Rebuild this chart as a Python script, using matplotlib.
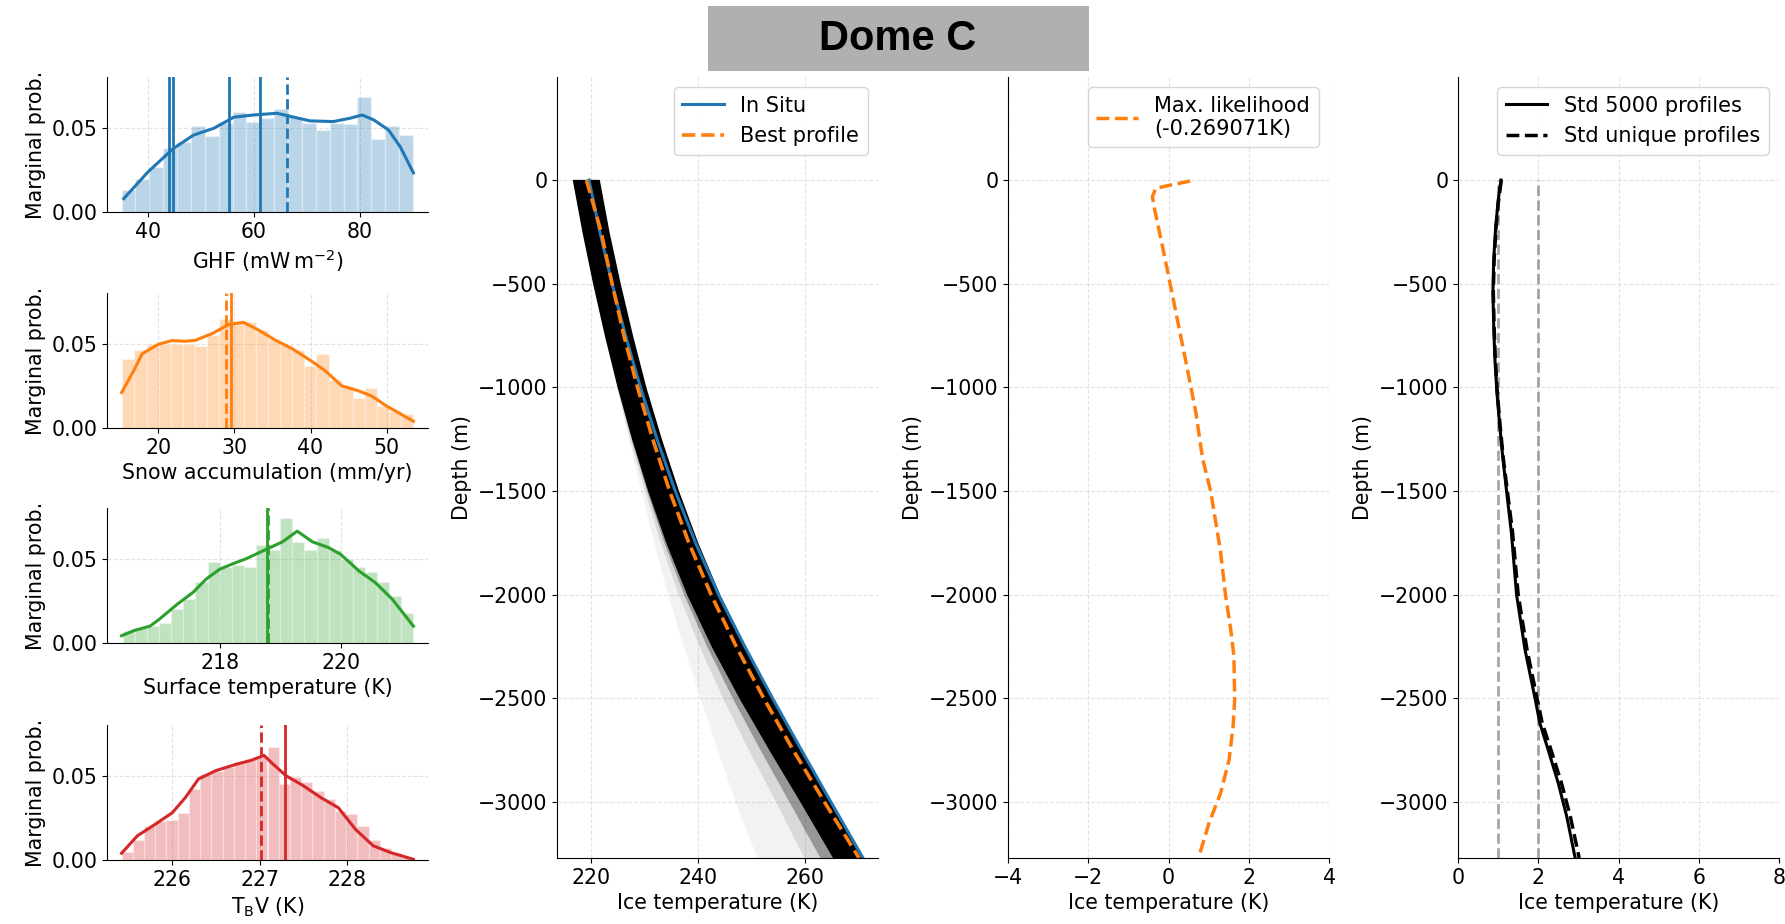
import matplotlib
matplotlib.use("Agg")
import matplotlib.pyplot as plt
import numpy as np
from matplotlib.patches import Rectangle

plt.rcParams["font.size"] = 14.8

C_BLUE, C_ORANGE, C_GREEN, C_RED = "tab:blue", "tab:orange", "tab:green", "tab:red"

# ---- marginal histograms (probability per bin) ----
ghf_range = (35.0, 90.0)
ghf_hist = [0.0129, 0.0198, 0.0268, 0.0377, 0.0417, 0.0512, 0.045, 0.053, 0.0595, 0.0536, 0.056,
            0.061, 0.0565, 0.0526, 0.0486, 0.0526, 0.052, 0.068, 0.043, 0.051, 0.0458]
ghf_kde_x = [35.4, 40.0, 44.8, 48.6, 52.4, 56.2, 59.9, 64.3, 67.5, 70.6, 75.0, 78.2, 80.4, 82.6, 85.4, 87.6, 90.1]
ghf_kde_y = [0.0079, 0.0238, 0.0377, 0.0456, 0.0496, 0.0562, 0.0575, 0.0585, 0.0562, 0.054, 0.0536,
             0.0556, 0.0575, 0.0546, 0.0486, 0.0387, 0.0232]
ghf_solid = [44.0, 44.7, 55.3, 61.1]
ghf_dashed = [66.2]

acc_range = (15.3, 53.5)
acc_hist = [0.041, 0.046, 0.050, 0.050, 0.050, 0.050, 0.0486, 0.055, 0.0644, 0.063, 0.063, 0.058,
            0.053, 0.049, 0.046, 0.037, 0.0436, 0.0284, 0.025, 0.018, 0.024, 0.013, 0.010, 0.0084]
acc_kde_x = [15.2, 16.8, 17.9, 20.0, 21.8, 23.6, 24.9, 27.1, 29.3, 31.2, 33.2, 35.4, 37.6, 40.0,
             41.9, 44.1, 46.3, 48.0, 50.0, 53.5]
acc_kde_y = [0.021, 0.034, 0.044, 0.0496, 0.0518, 0.0514, 0.052, 0.056, 0.0614, 0.0626, 0.058, 0.052,
             0.047, 0.040, 0.034, 0.025, 0.022, 0.019, 0.013, 0.004]
acc_solid = [29.6]
acc_dashed = [28.95]

ts_range = (216.4, 221.2)
ts_hist = [0.007, 0.009, 0.010, 0.012, 0.020, 0.026, 0.036, 0.048, 0.045, 0.046, 0.045, 0.058,
           0.055, 0.074, 0.060, 0.055, 0.062, 0.055, 0.050, 0.045, 0.042, 0.036, 0.028, 0.018]
ts_kde_x = [216.38, 216.58, 216.85, 217.0, 217.3, 217.56, 217.78, 218.0, 218.2, 218.44, 218.77,
            219.04, 219.28, 219.53, 219.8, 220.0, 220.3, 220.57, 220.85, 221.2]
ts_kde_y = [0.0043, 0.0073, 0.010, 0.014, 0.023, 0.030, 0.038, 0.0437, 0.0467, 0.050, 0.0555,
            0.060, 0.0663, 0.060, 0.0565, 0.0525, 0.0427, 0.0358, 0.026, 0.010]
ts_solid = [218.78]
ts_dashed = [218.80]

tb_range = (225.42, 228.76)
tb_hist = [0.005, 0.012, 0.020, 0.023, 0.024, 0.028, 0.042, 0.051, 0.053, 0.055, 0.058, 0.060, 0.061,
           0.067, 0.045, 0.049, 0.046, 0.041, 0.036, 0.029, 0.027, 0.020, 0.012, 0.007, 0.004, 0.002]
tb_kde_x = [225.42, 225.6, 225.8, 226.0, 226.15, 226.3, 226.5, 226.75, 226.9, 227.05, 227.15, 227.3,
            227.5, 227.7, 227.9, 228.1, 228.3, 228.5, 228.76]
tb_kde_y = [0.004, 0.0143, 0.021, 0.028, 0.037, 0.048, 0.053, 0.057, 0.059, 0.062, 0.057, 0.050,
            0.044, 0.037, 0.031, 0.018, 0.0084, 0.0044, 0.0004]
tb_solid = [227.29]
tb_dashed = [227.02]

# ---- temperature profiles (Dome C) ----
depth = [0, -250, -500, -750, -1000, -1250, -1500, -1750, -2000, -2250, -2500, -2750, -3000, -3270]
in_situ = [219.6, 221.6, 223.9, 226.4, 229.2, 232.3, 235.7, 239.5, 243.8, 248.7, 253.9, 259.3, 264.8, 270.8]
best_profile = [219.1, 221.85, 223.9, 226.1, 228.65, 231.5, 234.65, 238.25, 242.4, 247.1, 252.25, 257.75, 263.6, 270.05]
# envelopes of the 5000-profile ensemble (dense core and fading spread to the left)
ens_right = [221.4, 223.2, 225.3, 227.6, 230.1, 233.0, 236.2, 239.8, 243.9, 248.6, 253.7, 259.0, 264.5, 270.4]
ens_core_left = [216.6, 218.4, 220.4, 222.6, 225.0, 227.7, 230.7, 234.1, 238.0, 242.6, 247.8, 253.4, 259.2, 265.3]
ens_near_left = [216.6, 218.4, 220.4, 222.6, 224.9, 227.5, 230.4, 233.6, 237.3, 241.6, 246.4, 251.6, 257.0, 262.8]
ens_mid_left = [216.6, 218.4, 220.4, 222.5, 224.8, 227.2, 230.0, 232.9, 236.3, 240.2, 244.6, 249.4, 254.5, 259.8]
ens_far_left = [216.6, 218.4, 220.4, 222.4, 224.7, 227.0, 229.3, 231.7, 234.3, 237.2, 240.4, 243.6, 246.9, 251.0]

ml_depth = [-5, -24, -40, -80, -128, -320, -480, -672, -912, -1120, -1344, -1500, -1653, -1797, -2000,
            -2167, -2296, -2506, -2635, -2796, -2956, -3101, -3262]
ml_diff = [0.54, 0.06, -0.32, -0.40, -0.36, -0.15, 0.02, 0.22, 0.47, 0.68, 0.85, 1.05, 1.18, 1.30, 1.42,
           1.55, 1.63, 1.65, 1.61, 1.51, 1.30, 1.01, 0.76]

std_depth = [0, -100, -225, -385, -545, -705, -865, -1025, -1185, -1345, -1500, -1700, -2000, -2265,
             -2500, -2620, -2750, -2910, -3070, -3270]
std_all = [1.07, 1.00, 0.94, 0.89, 0.87, 0.89, 0.92, 0.97, 1.04, 1.12, 1.21, 1.33, 1.46, 1.67, 1.92,
           2.04, 2.25, 2.50, 2.71, 2.92]
std_unique = [1.08, 1.01, 0.95, 0.90, 0.88, 0.90, 0.93, 0.98, 1.05, 1.13, 1.23, 1.36, 1.50, 1.72, 1.97,
              2.10, 2.32, 2.58, 2.80, 3.02]
ref_lines = [1, 2]
ice_thickness = 3270

W, H = 1785, 924
fig = plt.figure(figsize=(W / 100, H / 100), dpi=100)


def px_axes(left, top, right, bottom):
    return fig.add_axes([left / W, 1 - bottom / H, (right - left) / W, (bottom - top) / H])


def style(ax):
    ax.spines["top"].set_visible(False)
    ax.spines["right"].set_visible(False)
    ax.grid(True, linestyle="--", alpha=0.35)
    ax.set_axisbelow(True)


hists = [
    (ghf_range, ghf_hist, ghf_kde_x, ghf_kde_y, ghf_solid, ghf_dashed, C_BLUE, r"GHF (mW$\,$m$^{-2}$)", [40, 60, 80]),
    (acc_range, acc_hist, acc_kde_x, acc_kde_y, acc_solid, acc_dashed, C_ORANGE, "Snow accumulation (mm/yr)", [20, 30, 40, 50]),
    (ts_range, ts_hist, ts_kde_x, ts_kde_y, ts_solid, ts_dashed, C_GREEN, "Surface temperature (K)", [218, 220]),
    (tb_range, tb_hist, tb_kde_x, tb_kde_y, tb_solid, tb_dashed, C_RED, r"T$_\mathrm{B}$V (K)", [226, 227, 228]),
]
tops = [77, 293, 508, 725]
for (rng, h, kx, ky, sol, das, c, lab, ticks), top in zip(hists, tops):
    ax = px_axes(107, top, 428, top + 135)
    style(ax)
    edges = np.linspace(rng[0], rng[1], len(h) + 1)
    ax.bar(edges[:-1], h, width=np.diff(edges), align="edge", color=c, alpha=0.3,
           edgecolor="white", linewidth=1)
    ax.plot(kx, ky, color=c, lw=2.2)
    for v in sol:
        ax.axvline(v, color=c, lw=2)
    for v in das:
        ax.axvline(v, color=c, lw=2, ls="--")
    ax.set_ylim(0, 0.08)
    ax.set_yticks([0, 0.05])
    ax.set_yticklabels(["0.00", "0.05"])
    ax.set_xticks(ticks)
    ax.set_xlabel(lab)
    ax.set_ylabel("Marginal prob.")

prof_top, prof_bot = 77, 858
yl = (-ice_thickness, 497)
yt = [0, -500, -1000, -1500, -2000, -2500, -3000]

# panel: ensemble of profiles
ax2 = px_axes(557, prof_top, 878, prof_bot)
style(ax2)
ax2.fill_betweenx(depth, ens_far_left, ens_core_left, color="k", alpha=0.05, lw=0)
ax2.fill_betweenx(depth, ens_mid_left, ens_core_left, color="k", alpha=0.10, lw=0)
ax2.fill_betweenx(depth, ens_near_left, ens_core_left, color="k", alpha=0.30, lw=0)
ax2.fill_betweenx(depth, ens_core_left, ens_right, color="k", lw=1.0)
ax2.plot(in_situ, depth, color=C_BLUE, lw=2.2, label="In Situ")
ax2.plot(best_profile, depth, color=C_ORANGE, lw=2.6, ls="--", label="Best profile")
ax2.set_xlim(213.6, 273.6)
ax2.set_xticks([220, 240, 260])
ax2.legend(loc="upper right", fontsize=15)

# panel: max likelihood difference
ax3 = px_axes(1008, prof_top, 1329, prof_bot)
style(ax3)
ax3.plot(ml_diff, ml_depth, color=C_ORANGE, lw=2.5, ls="--", label="Max. likelihood\n(-0.269071K)")
ax3.set_xlim(-4, 4)
ax3.legend(loc="upper right", fontsize=15)

# panel: standard deviation
ax4 = px_axes(1458, prof_top, 1779, prof_bot)
style(ax4)
ax4.vlines(ref_lines, -ice_thickness, 0, colors="gray", linestyles="--", lw=2, alpha=0.7)
ax4.plot(std_all, std_depth, color="k", lw=2.2, label="Std 5000 profiles")
ax4.plot(std_unique, std_depth, color="k", lw=2.5, ls="--", label="Std unique profiles")
ax4.set_xlim(0, 8)
ax4.legend(loc="upper right", fontsize=15)

for ax in (ax2, ax3, ax4):
    ax.set_ylim(*yl)
    ax.set_yticks(yt)
    ax.set_xlabel("Ice temperature (K)")
    ax.set_ylabel("Depth (m)")

# title box
fig.patches.append(Rectangle((708 / W, 1 - 71 / H), 381 / W, 65 / H, transform=fig.transFigure,
                             facecolor="#b0b0b0", edgecolor="none", zorder=0))
fig.text(898 / W, 1 - 39 / H, "Dome C", ha="center", va="center", fontsize=30,
         fontweight="bold", family="Liberation Sans")

fig.savefig("out.png", dpi=100)
